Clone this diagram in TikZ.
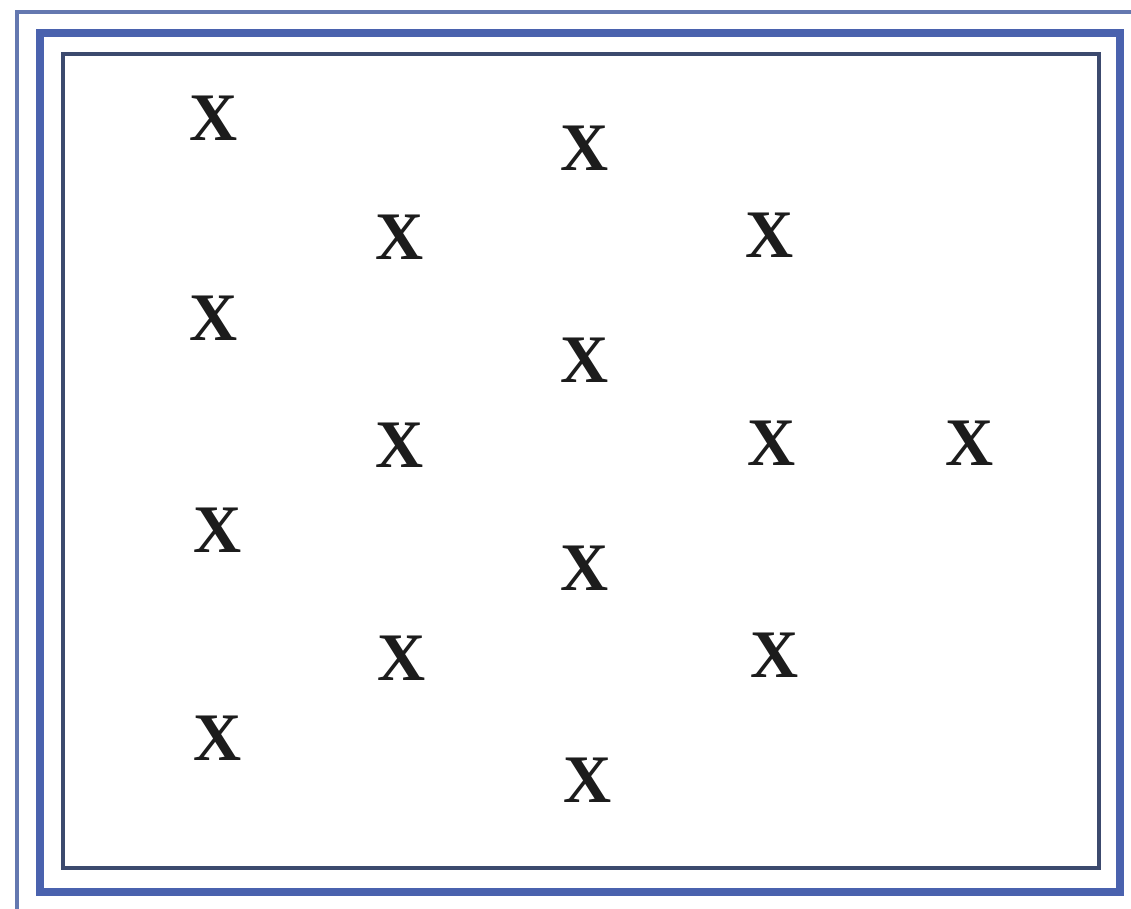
\documentclass[tikz,border=0pt]{standalone}
\usepackage{fontspec}
\setmainfont{Liberation Serif}
\definecolor{couter}{HTML}{6478B0}
\definecolor{cframe}{HTML}{4A62AE}
\definecolor{cline}{HTML}{3C4A6E}
\definecolor{cmark}{HTML}{1C1C1C}
\tikzset{
  outerline/.style={draw=couter, line width=3.5pt},
  frame/.style={draw=cframe, line width=8pt},
  innerline/.style={draw=cline, line width=3.5pt},
  xmark/.style={text=cmark, font=\fontsize{68}{68}\selectfont\bfseries, inner sep=0pt, xscale=0.98},
}

\begin{document}
\begin{tikzpicture}[x=1pt, y=-1pt]
  \useasboundingbox (0,0) rectangle (1131,908);
  \clip (0,0) rectangle (1131,908);
  % borders
  \draw[outerline] (17,12) rectangle (1150,930);
  \draw[frame] (40,33) rectangle (1120,892);
  \draw[innerline] (63,54) rectangle (1099,868);
  % the marks
  \foreach \n/\px/\py in {1/214/118, 2/585/148, 3/400/237, 4/770/235, 5/214/318,
      6/585/360, 7/400/445, 8/772/443, 9/970/443, 10/218/530,
      11/585/568, 12/402/658, 13/775/655, 14/218/738, 15/588/780} {
    \node[xmark] (x\n) at (\px,\py) {X};
  }
\end{tikzpicture}
\end{document}
